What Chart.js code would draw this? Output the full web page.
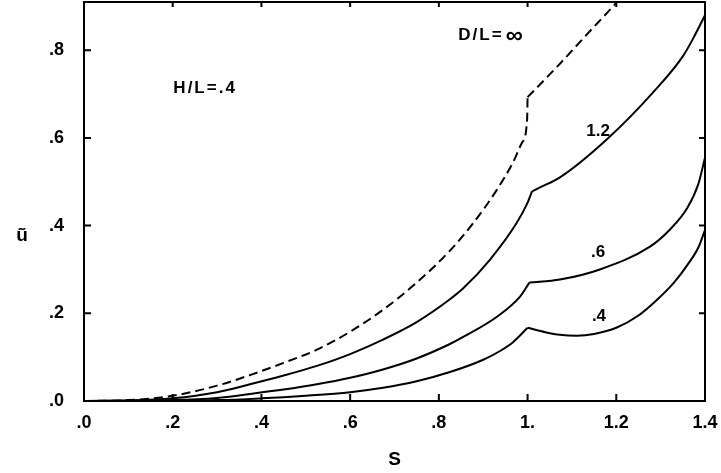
<!DOCTYPE html>
<html>
<head>
<meta charset="utf-8">
<script src="https://cdn.jsdelivr.net/npm/chart.js@4/dist/chart.umd.min.js"></script>
<style>
  html, body { margin: 0; padding: 0; background: #fff; }
  #wrap { width: 721px; height: 473px; }
</style>
</head>
<body>
<div id="wrap"><canvas id="chart"></canvas></div>
<script>
// S values and u~ values, one pair of arrays per curve
const sInf = [0, 0.1, 0.2, 0.3, 0.374, 0.45, 0.525, 0.6, 0.674, 0.75, 0.825, 0.877, 0.931, 0.967, 0.988, 0.999, 1.0, 1.069, 1.13, 1.2, 1.25];
const uInf = [0, 0.002, 0.012, 0.035, 0.059, 0.087, 0.117, 0.158, 0.208, 0.27, 0.343, 0.405, 0.482, 0.544, 0.59, 0.642, 0.693, 0.765, 0.832, 0.908, 0.965];

const s12 = [0, 0.1, 0.2, 0.3, 0.374, 0.45, 0.525, 0.6, 0.674, 0.75, 0.825, 0.855, 0.915, 0.976, 0.999, 1.01, 1.028, 1.073, 1.179, 1.283, 1.35, 1.375, 1.4];
const u12 = [0, 0.001, 0.006, 0.02, 0.038, 0.058, 0.08, 0.107, 0.14, 0.18, 0.232, 0.257, 0.322, 0.407, 0.45, 0.478, 0.487, 0.51, 0.597, 0.704, 0.786, 0.83, 0.88];

const s06 = [0, 0.2, 0.3, 0.374, 0.45, 0.525, 0.6, 0.674, 0.75, 0.825, 0.855, 0.931, 0.983, 1.004, 1.073, 1.163, 1.276, 1.32, 1.36, 1.385, 1.4];
const u06 = [0, 0.002, 0.007, 0.016, 0.026, 0.038, 0.053, 0.072, 0.097, 0.13, 0.146, 0.192, 0.238, 0.27, 0.277, 0.30, 0.352, 0.39, 0.44, 0.495, 0.555];

const s04 = [0, 0.3, 0.4, 0.5, 0.6, 0.674, 0.75, 0.825, 0.9, 0.938, 0.967, 1.0, 1.04, 1.073, 1.111, 1.15, 1.2, 1.25, 1.292, 1.33, 1.36, 1.385, 1.4];
const u04 = [0, 0.002, 0.006, 0.012, 0.02, 0.03, 0.045, 0.066, 0.094, 0.114, 0.134, 0.167, 0.157, 0.151, 0.149, 0.153, 0.167, 0.195, 0.231, 0.27, 0.31, 0.35, 0.39];

// S where each curve has its corner
const kinkInf = 1.0, kink12 = 1.01, kink06 = 1.004, kink04 = 1.0;

const xTickLabels = ['.0', '.2', '.4', '.6', '.8', '1.', '1.2', '1.4'];
const yTickLabels = ['.0', '.2', '.4', '.6', '.8'];

// curve labels: [text, s, u]
const notes = [
  ['H/L=.4', 0.273, 0.713],
  ['D/L=', 0.895, 0.835],
  ['\u221E', 0.97, 0.835],
  ['1.2', 1.159, 0.615],
  ['.6', 1.159, 0.338],
  ['.4', 1.161, 0.194]
];

const FAMILY = '"Liberation Sans", Arial, sans-serif';

function pts(xs, ys) {
  return xs.map((x, i) => ({ x: x, y: ys[i] }));
}

// one curve = two smooth pieces that meet at the corner
function curve(xs, ys, kink, dash) {
  const all = pts(xs, ys);
  const mk = data => ({
    data: data,
    borderColor: '#000',
    borderWidth: 2,
    borderDash: dash || [],
    pointRadius: 0,
    fill: false,
    cubicInterpolationMode: 'monotone'
  });
  return [mk(all.filter(p => p.x <= kink)), mk(all.filter(p => p.x >= kink))];
}

const frame = {
  id: 'frame',
  afterDraw(chart) {
    const ctx = chart.ctx;
    const a = chart.chartArea;
    const xs = chart.scales.x, ys = chart.scales.y;
    ctx.save();
    ctx.strokeStyle = '#000';
    ctx.lineWidth = 2;
    ctx.strokeRect(a.left, a.top, a.right - a.left, a.bottom - a.top);
    ctx.beginPath();
    xs.ticks.forEach(t => {
      const px = xs.getPixelForValue(t.value);
      ctx.moveTo(px, a.bottom); ctx.lineTo(px, a.bottom - 7);
      ctx.moveTo(px, a.top); ctx.lineTo(px, a.top + 5);
    });
    ys.ticks.forEach(t => {
      const py = ys.getPixelForValue(t.value);
      ctx.moveTo(a.left, py); ctx.lineTo(a.left + 7, py);
      ctx.moveTo(a.right, py); ctx.lineTo(a.right - 6, py);
    });
    ctx.stroke();

    ctx.fillStyle = '#000';
    ctx.textAlign = 'center';
    ctx.textBaseline = 'middle';
    notes.forEach(n => {
      const inf = n[0] === '\u221E';
      ctx.font = (inf ? 'bold 24px ' : 'bold 17px ') + FAMILY;
      ctx.letterSpacing = n[0].length > 3 ? '2px' : '0px';
      ctx.fillText(n[0], xs.getPixelForValue(n[1]), ys.getPixelForValue(n[2]) + (inf ? 1 : 0));
    });
    ctx.letterSpacing = '0px';
    // axis titles, upright as in the original
    ctx.font = 'bold 19px ' + FAMILY;
    ctx.fillText('\u0169', 22, 236);
    ctx.fillText('S', (a.left + a.right) / 2, 460);
    ctx.restore();
  }
};

new Chart(document.getElementById('chart'), {
  type: 'line',
  data: {
    datasets: [
      ...curve(sInf, uInf, kinkInf, [9, 5]),
      ...curve(s12, u12, kink12),
      ...curve(s06, u06, kink06),
      ...curve(s04, u04, kink04)
    ]
  },
  options: {
    responsive: true,
    maintainAspectRatio: false,
    animation: false,
    layout: { padding: { top: 2, right: 16, left: 0, bottom: 0 } },
    plugins: { legend: { display: false }, tooltip: { enabled: false } },
    scales: {
      x: {
        type: 'linear', min: 0, max: 1.4,
        grid: { display: false, drawTicks: false },
        border: { display: false },
        ticks: {
          stepSize: 0.2, color: '#000', padding: 11,
          font: { family: FAMILY, size: 18, weight: 'bold' },
          maxRotation: 0,
          callback: (v, i) => xTickLabels[i]
        },
        afterFit(scale) {
          scale.height = 72;
          scale.paddingLeft = 0;
          scale.paddingRight = 0;
        }
      },
      y: {
        type: 'linear', min: 0, max: 0.91,
        grid: { display: false, drawTicks: false },
        border: { display: false },
        ticks: {
          stepSize: 0.2, color: '#000', padding: 20,
          font: { family: FAMILY, size: 18, weight: 'bold' },
          callback: (v, i) => yTickLabels[i]
        },
        afterFit(scale) {
          scale.width = 84;
          scale.paddingTop = 0;
          scale.paddingBottom = 0;
        }
      }
    }
  },
  plugins: [frame]
});
</script>
</body>
</html>
